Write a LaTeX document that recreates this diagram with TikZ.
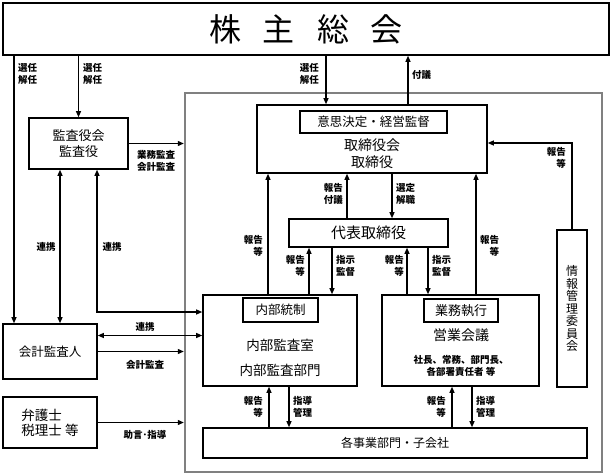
\documentclass[tikz,border=0pt]{standalone}
\usepackage{fontspec}
\setmainfont{Noto Sans CJK JP}
\usetikzlibrary{arrows.meta}

\begin{document}
\begin{tikzpicture}[x=1pt,y=-1pt,
  box/.style={draw,line width=1.6pt,inner sep=0pt},
  tag/.style={draw,line width=1.4pt,inner sep=0pt},
  arr/.style={line width=1.1pt,-{Triangle[length=6pt,width=5pt]}},
  dbl/.style={line width=1.1pt,{Triangle[length=6pt,width=5pt]}-{Triangle[length=6pt,width=5pt]}},
  lbl/.style={font=\fontsize{9.5}{12}\selectfont\bfseries,inner sep=0pt},
  txt/.style={inner sep=0pt,align=center}]

  \useasboundingbox (0,0) rectangle (613,476);

  % KAISHA
  \node[draw=gray,line width=2.4pt,minimum width=417pt,minimum height=379pt] (kaisha) at (393.5,282.5) {};

  % BOXES
  \node[box,minimum width=606pt,minimum height=52pt,font=\fontsize{32}{32}\selectfont] (soukai) at (306,29) {株\hspace{22pt}主\hspace{22pt}総\hspace{22pt}会};
  \node[box,minimum width=99pt,minimum height=51pt,align=center,font=\fontsize{13}{16}\selectfont] (kansa) at (78.5,143.5) {監査役会\\監査役};
  \node[box,minimum width=230pt,minimum height=68pt] (torishimari) at (372,139) {};
  \node[tag,minimum width=147pt,minimum height=22pt,font=\fontsize{12.5}{14}\selectfont] (ishi) at (373.5,122) {意思決定・経営監督};
  \node[txt,font=\fontsize{14}{17}\selectfont] (torishimaritxt) at (372,153.5) {取締役会\\取締役};
  \node[box,minimum width=159pt,minimum height=28pt,font=\fontsize{15}{15}\selectfont] (daihyo) at (368.5,233) {代表取締役};
  \node[box,minimum width=154pt,minimum height=91pt] (naibu) at (280,340.5) {};
  \node[tag,minimum width=75pt,minimum height=24pt,font=\fontsize{12.5}{14}\selectfont] (naibutag) at (280.5,310) {内部統制};
  \node[txt,font=\fontsize{13.5}{25}\selectfont] (naibutxt) at (280,357.5) {内部監査室\\内部監査部門};
  \node[box,minimum width=157pt,minimum height=91pt] (gyomu) at (460.5,340.5) {};
  \node[tag,minimum width=74pt,minimum height=23pt,font=\fontsize{13}{14}\selectfont] (gyomutag) at (461,310.5) {業務執行};
  \node[txt,font=\fontsize{14}{14}\selectfont] (eigyo) at (461,335) {営業会議};
  \node[txt,font=\fontsize{9.5}{12}\selectfont\bfseries] (shacho) at (461,366) {社長、常務、部門長、\\各部署責任者 等};
  \node[box,minimum width=30pt,minimum height=157pt,align=center,font=\fontsize{12}{12.5}\selectfont] (joho) at (572,308.5) {情\\報\\管\\理\\委\\員\\会};
  \node[box,minimum width=384pt,minimum height=30pt,font=\fontsize{12}{12}\selectfont] (kakuji) at (395,443) {各事業部門・子会社};
  \node[box,minimum width=94pt,minimum height=55pt,font=\fontsize{12.5}{12.5}\selectfont] (kaikei) at (50,351.5) {会計監査人};
  \node[box,minimum width=94pt,minimum height=51pt,align=left,font=\fontsize{13.5}{15}\selectfont] (bengo) at (50,422.5) {弁護士\\税理士 等};

  % SOUKAI
  \draw[arr] (soukai.south -| 14,0) -- (kaikei.north -| 14,0); %LEVO
  \draw[arr] (soukai.south -| kansa.north) -- (kansa.north);
  \draw[arr] (soukai.south -| 326,0) -- (torishimari.north -| 326,0);
  \draw[arr] (torishimari.north -| 408,0) -- (soukai.south -| 408,0);
  \node[lbl,anchor=west,align=left] (l1) at (18,73.5) {選任\\解任};
  \node[lbl,anchor=west,align=left] (l2) at (83,73.5) {選任\\解任};
  \node[lbl,anchor=east,align=right] (l3) at (319,73.5) {選任\\解任};
  \node[lbl,anchor=west] (l4) at (412,75) {付議};

  % KANSA
  \draw[arr] (kansa.east) -- (kansa.east -| kaisha.west);
  \draw[dbl] ([xshift=-18.5pt]kansa.south) -- ([xshift=-18.5pt]kansa.south |- kaikei.north);
  \draw[dbl] ([xshift=18.5pt]kansa.south) |- ([yshift=28.5pt]naibu.west);
  \node[lbl,align=left] (l5) at (156,160.5) {業務監査\\会計監査};
  \node[lbl] (l6) at (46,247) {連携};
  \node[lbl] (l7) at (112,247) {連携};

  % KAIKEI, BENGO
  \draw[dbl] ([yshift=16pt]kaikei.east) -- ([yshift=16pt]kaikei.east -| naibu.west);
  \draw[arr] (kaikei.east) -- (kaikei.east -| kaisha.west);
  \draw[arr] (bengo.east) -- (bengo.east -| kaisha.west);
  \node[lbl] (l8) at (145,327) {連携};
  \node[lbl] (l9) at (145,365) {会計監査};
  \node[lbl] (l10) at (145,435) {助言･指導};

  % TORISHIMARI
  \draw[arr] (joho.north) |- ([yshift=-4pt]torishimari.east);
  \draw[arr] (daihyo.north -| 347,0) -- (torishimari.south -| 347,0);
  \draw[arr] (torishimari.south -| 392,0) -- (daihyo.north -| 392,0);
  \draw[arr] (naibu.north -| 268,0) -- (torishimari.south -| 268,0);
  \draw[arr] (gyomu.north -| 476,0) -- (torishimari.south -| 476,0);
  \node[lbl,anchor=east,align=right] (l11) at (566,158) {報告\\等};
  \node[lbl,anchor=east,align=right] (l12) at (343,194) {報告\\付議};
  \node[lbl,anchor=west,align=left] (l13) at (396,194) {選定\\解職};
  \node[lbl,anchor=east,align=right] (l14) at (263,246) {報告\\等};
  \node[lbl,anchor=west,align=right] (l15) at (480,246) {報告\\等};

  % DAIHYO
  \draw[arr] (naibu.north -| 309,0) -- (daihyo.south -| 309,0);
  \draw[arr] (daihyo.south -| 332,0) -- (naibu.north -| 332,0);
  \draw[arr] (gyomu.north -| 407,0) -- (daihyo.south -| 407,0);
  \draw[arr] (daihyo.south -| 428,0) -- (gyomu.north -| 428,0);
  \node[lbl,anchor=east,align=right] (l16) at (305,266) {報告\\等};
  \node[lbl,anchor=west,align=left] (l17) at (336,266) {指示\\監督};
  \node[lbl,anchor=east,align=right] (l18) at (404,266) {報告\\等};
  \node[lbl,anchor=west,align=left] (l19) at (432,266) {指示\\監督};

  % KAKUJI
  \draw[arr] (kakuji.north -| 269,0) -- (naibu.south -| 269,0);
  \draw[arr] (naibu.south -| 289,0) -- (kakuji.north -| 289,0);
  \draw[arr] (kakuji.north -| 452,0) -- (gyomu.south -| 452,0);
  \draw[arr] (gyomu.south -| 472,0) -- (kakuji.north -| 472,0);
  \node[lbl,anchor=east,align=right] (l20) at (263,407) {報告\\等};
  \node[lbl,anchor=west,align=left] (l21) at (293,407) {指導\\管理};
  \node[lbl,anchor=east,align=right] (l22) at (446,407) {報告\\等};
  \node[lbl,anchor=west,align=left] (l23) at (476,407) {指導\\管理};

\end{tikzpicture}
\end{document}
